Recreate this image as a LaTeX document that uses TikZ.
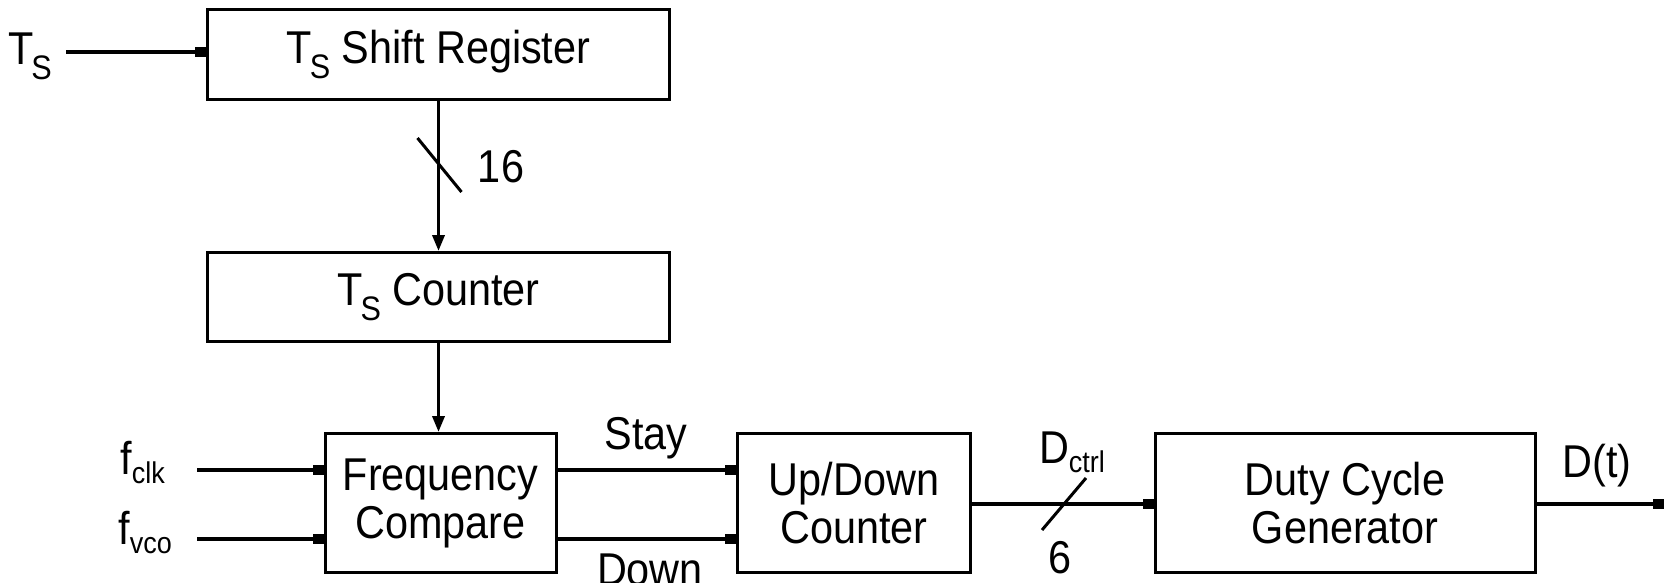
\documentclass[tikz,border=0pt]{standalone}
\usepackage{fontspec}
\setmainfont[FakeStretch=0.9]{Liberation Sans}
\usetikzlibrary{arrows.meta,calc}
\newcommand\subS[1]{\raisebox{-15pt}{\fontsize{34pt}{34pt}\selectfont #1}}
\newcommand\subs[1]{\raisebox{-9pt}{\fontsize{30pt}{30pt}\selectfont #1}}
\begin{document}
\begin{tikzpicture}[x=1pt,y=-1pt,
  every node/.style={font=\fontsize{46pt}{48pt}\selectfont},
  blk/.style={draw,line width=3pt,inner sep=0pt,align=center},
  conn/.style={line width=3.5pt,-{Rectangle[length=11pt,width=10pt]}},
  dconn/.style={line width=3.5pt,-{Triangle[length=16pt,width=12pt]}},
  lbl/.style={inner sep=0pt}]
\useasboundingbox (0,0) rectangle (1669,582);
\node[blk,minimum width=462pt,minimum height=90pt] (sr) at (438.5,54) {T\kern-2pt\subS{S} Shift Register};
\node[blk,minimum width=462pt,minimum height=89pt] (cnt) at (438.5,297) {T\kern-2pt\subS{S} Counter};
\node[blk,minimum width=231pt,minimum height=139pt] (fc) at (440.5,503) {Frequency\\Compare};
\node[blk,minimum width=233pt,minimum height=139pt] (ud) at (854,503) {Up/Down\\Counter};
\node[blk,minimum width=380pt,minimum height=139pt] (dc) at (1345,503) {Duty Cycle\\Generator};
% inputs
\node[lbl,anchor=east] (ts) at (52,56) {T\kern-2pt\subS{S}};
\coordinate (tsa) at (66,52);
\draw[conn] (tsa) -- (tsa -| sr.west);
\node[lbl,anchor=east] (fclk) at (165,462) {f\subs{clk}};
\node[lbl,anchor=east] (fvco) at (172,532) {f\subs{vco}};
\coordinate (fclka) at (197,470);
\coordinate (fvcoa) at (197,539);
\draw[conn] (fclka) -- (fclka -| fc.west);
\draw[conn] (fvcoa) -- (fvcoa -| fc.west);
% vertical
\draw[dconn] (sr.south) -- (cnt.north);
\draw[dconn] (cnt.south) -- (cnt.south |- fc.north);
\coordinate (s16) at (439.5,165);
\draw[line width=3pt] ($(s16)+(-22,-27)$) -- ($(s16)+(22,27)$);
\node[lbl] (n16) at (501,167) {16};
% stay/down
\coordinate (stay) at (fc.east |- fclka);
\coordinate (down) at (fc.east |- fvcoa);
\draw[conn] (stay) -- (stay -| ud.west);
\draw[conn] (down) -- (down -| ud.west);
\node[lbl] (st) at (646,438) {Stay};
\node[lbl] (dn) at (650,570) {Down};
% dctrl
\coordinate (dm) at (1064,504);
\draw[conn] (ud.east |- dm) -- (dc.west |- dm);
\draw[line width=3pt] ($(dm)+(-22,26)$) -- ($(dm)+(22,-26)$);
\node[lbl] (dct) at (1072,452) {D\subs{ctrl}};
\node[lbl] (six) at (1060,558) {6};
% output
\coordinate (out) at (1664,504);
\draw[conn] (dc.east |- out) -- (out);
\node[lbl] (dt) at (1597,466) {D(t)};
\end{tikzpicture}
\end{document}
